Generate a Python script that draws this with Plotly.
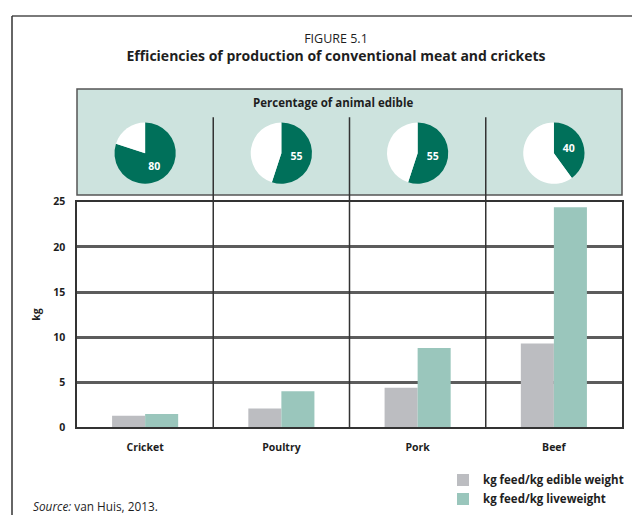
import plotly.graph_objects as go

# ---- data ----
categories = ["Cricket", "Poultry", "Pork", "Beef"]
edible_pct = [80, 55, 55, 40]
feed_per_edible = [1.3, 2.1, 4.4, 9.3]
feed_per_live = [1.5, 4.0, 8.8, 24.4]
series_names = ["kg feed/kg edible weight", "kg feed/kg liveweight"]
y_ticks = [0, 5, 10, 15, 20, 25]

# page is offset by the browser's 8px body margin
OFF = 8
W, H = 640 - OFF, 522 - OFF
def px(x):
    return (x - OFF) / W
def py(y):
    return 1 - (y - OFF) / H

FONT = "Open Sans, Liberation Sans, Arial, sans-serif"
GREEN = "#00705a"
TEAL = "#9ac6bc"
GRAY = "#bcbdc1"
PANEL = "#cde3de"
DARK = "#333333"
TXT = "#1e1e1e"

fig = go.Figure()

fig.add_trace(go.Bar(x=categories, y=feed_per_edible, name=series_names[0],
                     legendgroup="a", marker=dict(color=GRAY, line=dict(width=0))))
fig.add_trace(go.Bar(x=categories, y=feed_per_live, name=series_names[1],
                     legendgroup="b", marker=dict(color=TEAL, line=dict(width=0))))

# pies
plot_l, plot_r = 77, 622
col_w = (plot_r - plot_l) / len(categories)
d = 63
cy = 150
for i, (cat, pct) in enumerate(zip(categories, edible_pct)):
    cx = plot_l + col_w * (i + 0.5)
    fig.add_trace(go.Pie(
        values=[pct, 100 - pct],
        labels=["edible", "not edible"],
        text=[str(pct), ""],
        textinfo="text",
        textposition="inside",
        insidetextorientation="horizontal",
        insidetextfont=dict(color="white", size=10.5, family=FONT, weight="bold"),
        marker=dict(colors=[GREEN, "white"], line=dict(width=0)),
        sort=False, direction="clockwise", rotation=0,
        domain=dict(x=[px(cx - d / 2), px(cx + d / 2)], y=[py(cy + d / 2), py(cy - d / 2)]),
        showlegend=False, hoverinfo="skip",
    ))

shapes = [
    # page frame
    dict(type="line", xref="paper", yref="paper", x0=px(12), x1=1, y0=py(9), y1=py(9),
         line=dict(color="#7a7a7a", width=2)),
    dict(type="line", xref="paper", yref="paper", x0=px(12), x1=px(12), y0=py(9), y1=0,
         line=dict(color=DARK, width=1.5)),
    # pie panel
    dict(type="rect", xref="paper", yref="paper", x0=px(plot_l), x1=px(plot_r),
         y0=py(193), y1=py(84), fillcolor=PANEL, line=dict(color="#555555", width=1.5),
         layer="below"),
]
for k in range(1, len(categories)):
    shapes.append(dict(type="line", xref="x", yref="paper", x0=k - 0.5, x1=k - 0.5,
                       y0=py(432), y1=py(113), line=dict(color=DARK, width=1.5),
                       layer="above"))

annotations = [
    dict(text="<b>Percentage of animal edible</b>", x=px(333), y=py(98), xref="paper",
         yref="paper", xanchor="center", yanchor="middle", showarrow=False,
         font=dict(size=11.5, family=FONT, color=TXT)),
    dict(text="<i>Source:</i> van Huis, 2013.", x=px(31), y=py(513), xref="paper",
         yref="paper", xanchor="left", yanchor="middle", showarrow=False,
         font=dict(size=11.8, family=FONT, color=TXT)),
]

fig.update_layout(
    width=W, height=H,
    margin=dict(l=0, r=0, t=0, b=0),
    paper_bgcolor="white", plot_bgcolor="white",
    font=dict(family=FONT, color=TXT),
    title=dict(text="<span style='font-size:12.5px;font-weight:normal'>FIGURE 5.1</span><br><b>Efficiencies of production of conventional meat and crickets</b>",
               x=px(336), xanchor="center", y=py(43), yanchor="middle",
               font=dict(size=14, family=FONT, color=TXT)),
    barmode="group", bargap=0.515, bargroupgap=0,
    xaxis=dict(domain=[px(plot_l), px(plot_r)], range=[-0.5, 3.5], type="category",
               showline=True, mirror=True, linecolor=DARK, linewidth=1.5,
               showgrid=False, ticks="", ticklabelstandoff=9,
               tickfont=dict(size=10.5, family=FONT, weight="bold", color=TXT)),
    yaxis=dict(domain=[py(432), py(200)], range=[0, 25], tickvals=y_ticks,
               showline=True, mirror=True, linecolor=DARK, linewidth=1.5,
               showgrid=True, gridcolor="#5c5c5c", gridwidth=2.5, zeroline=False,
               ticks="", ticklabelstandoff=8,
               tickfont=dict(size=10.5, family=FONT, weight="bold", color=TXT),
               title=dict(text="kg", standoff=10,
                          font=dict(size=10.5, family=FONT, weight="bold", color=TXT))),
    legend=dict(x=px(443), y=py(471), xanchor="left", yanchor="top",
                font=dict(size=11.5, family=FONT, weight="bold", color=TXT),
                bgcolor="rgba(0,0,0,0)", tracegroupgap=4, traceorder="normal"),
    shapes=shapes, annotations=annotations,
)

fig.write_html("out.html")
